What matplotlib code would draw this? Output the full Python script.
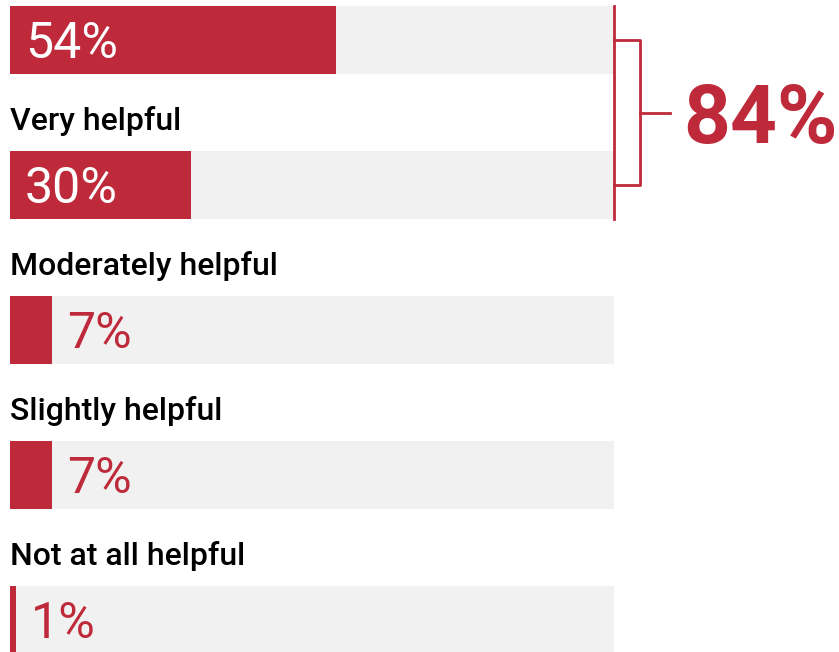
import matplotlib.pyplot as plt

# Survey shares, one bar per answer
labels = ["", "Very helpful", "Moderately helpful", "Slightly helpful", "Not at all helpful"]
values = [54, 30, 7, 7, 1]
combined = values[0] + values[1]  # bracketed total for the top two bars

RED = "#bf2a3b"
TRACK = "#f1f1f1"

fig = plt.figure(figsize=(8.39, 6.52), dpi=100)
ax = fig.add_axes([10 / 839, 0, 604 / 839, 1])
ax.set_xlim(0, 100)
ax.set_ylim(4.221, -0.276)
ax.axis("off")

bar_h = 68 / 145
rows = range(len(values))

# grey track behind every bar, then the red value bar
ax.barh(list(rows), [100] * len(values), height=bar_h, color=TRACK, left=0)
ax.barh(list(rows), values, height=bar_h, color=RED, left=0)

for i, (lab, v) in enumerate(zip(labels, values)):
    if lab:
        ax.text(0, i - 0.38, lab, fontsize=23, fontfamily="Roboto",
                fontweight="medium", color="black", va="baseline", ha="left")
    if v >= 20:
        ax.text(2.5, i + 0.124, f"{v}%", fontsize=36, fontfamily="Roboto",
                color="white", va="baseline", ha="left")
    else:
        ax.text(v + 2.5, i + 0.124, f"{v}%", fontsize=36, fontfamily="Roboto",
                color=RED, va="baseline", ha="left")

# bracket joining the first two bars
lw = 2
ax.plot([100, 100], [-bar_h / 2, 1 + bar_h / 2], color=RED, lw=lw, clip_on=False)
ax.plot([100, 104.3, 104.3, 100], [0, 0, 1, 1], color=RED, lw=lw, clip_on=False)
ax.plot([104.3, 109.3], [0.5, 0.5], color=RED, lw=lw, clip_on=False)
ax.text(111.4, 0.71, f"{combined}%", fontsize=59, fontfamily="Roboto",
        fontweight="bold", color=RED, va="baseline", ha="left", clip_on=False)

fig.savefig("out.png", dpi=100)
